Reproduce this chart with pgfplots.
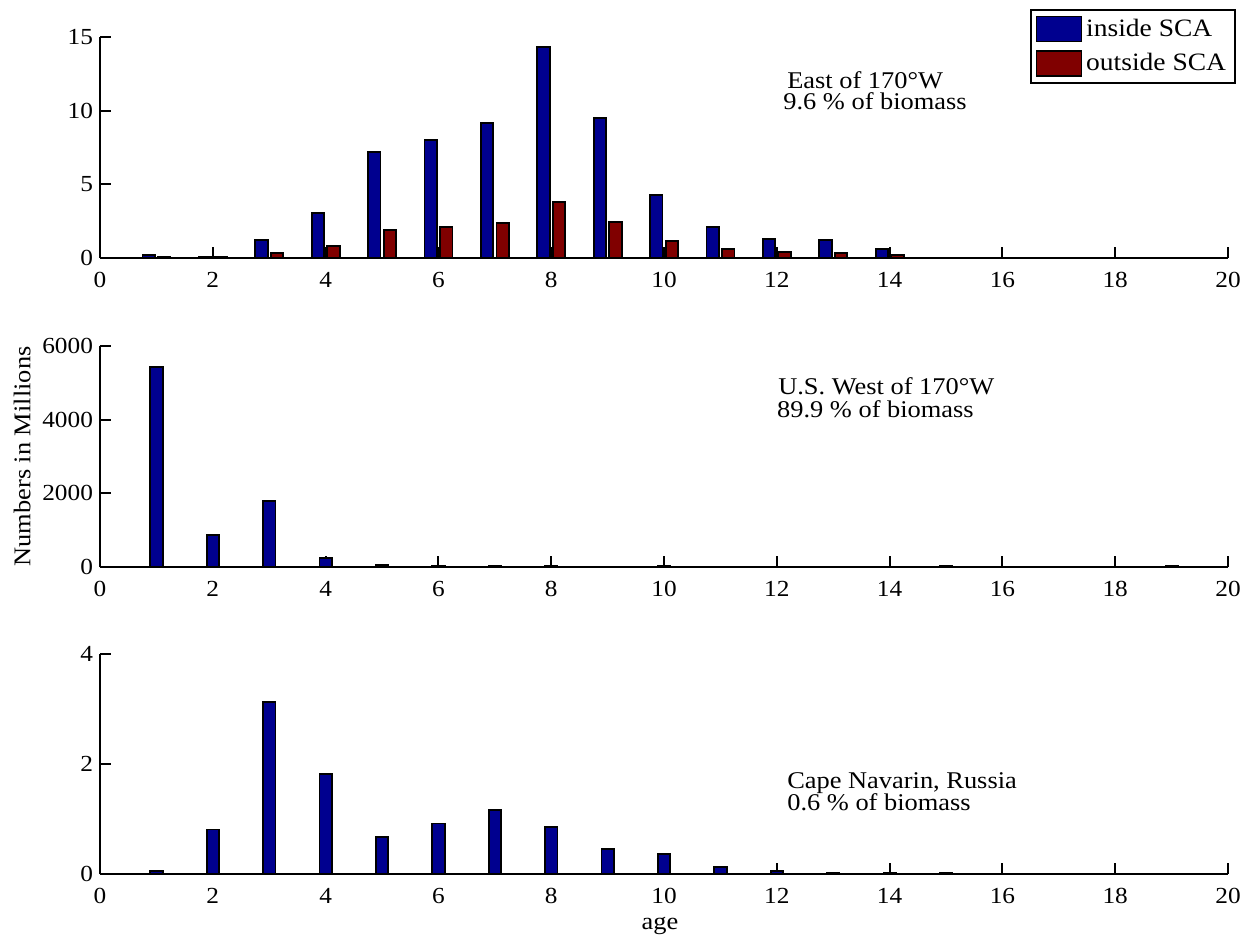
\documentclass[border=0pt]{standalone}
\usepackage{fontspec}
\setmainfont[FakeStretch=1.1]{Liberation Serif}
\usepackage{pgfplots}
\pgfplotsset{compat=1.18}

\definecolor{mblue}{RGB}{0,0,143}
\definecolor{mred}{RGB}{128,0,0}

\pgfplotsset{
  mstyle/.style={
    scale only axis, width=564pt, height=110.5pt,
    xmin=0, xmax=20, xtick={0,2,...,20},
    ymin=0,
    axis x line=bottom, axis y line=left,
    axis line style={-, line width=1pt},
    tick align=inside, major tick length=5.5pt,
    every tick/.style={black, line width=1pt},
    tick label style={font=\fontsize{11.5}{13}\selectfont},
    /pgf/number format/assume math mode=true,
    /pgf/number format/1000 sep={},
    xticklabel style={yshift=-3.5pt},
    label style={font=\fontsize{12}{14}\selectfont},
    clip=false,
  },
  mbar/.style={ybar, bar width=6.2pt, draw=black, line width=0.9pt, fill=#1,
    legend image code/.code={\draw[fill=#1, draw=black, line width=0.6pt] (0pt,-6.25pt) rectangle (22.5pt,6.25pt);}},
}
\tikzset{annot/.style={anchor=base west, inner sep=0pt, font=\fontsize{12}{14}\selectfont}}

\begin{document}
\begin{tikzpicture}
\useasboundingbox (0,0) rectangle (628.5pt,469.5pt);

% top panel
\begin{axis}[mstyle, at={(50pt,340.5pt)}, anchor=south west,
  ymax=15, ytick={0,5,10,15},
  legend style={at={(rel axis cs:1.0071,1.1267)}, anchor=north east, draw=black, line width=1pt,
    font=\fontsize{12.5}{14}\selectfont, legend cell align=left, row sep=3pt, inner sep=2.5pt}]
\addplot[mbar=mblue, bar shift=-3.9pt] coordinates {(1,0.2)(2,0.07)(3,1.22)(4,3.07)(5,7.22)(6,7.99)(7,9.14)(8,14.32)(9,9.48)(10,4.30)(11,2.13)(12,1.29)(13,1.22)(14,0.61)};
\addlegendentry{inside SCA}
\addplot[mbar=mred, bar shift=3.9pt] coordinates {(1,0.07)(2,0.05)(3,0.34)(4,0.81)(5,1.90)(6,2.13)(7,2.35)(8,3.78)(9,2.46)(10,1.15)(11,0.61)(12,0.39)(13,0.36)(14,0.2)};
\addlegendentry{outside SCA}
\node[annot] at (axis cs:12.18,11.5) {East of 170°W};
\node[annot] at (axis cs:12.11,10.05) {9.6 \% of biomass};
\end{axis}

% middle panel
\begin{axis}[mstyle, at={(50pt,186pt)}, anchor=south west,
  ymax=6000, ytick={0,2000,4000,6000},
  ylabel={Numbers in Millions},
  ylabel style={at={(axis description cs:-0.0691,0.5)}, anchor=center}]
\addplot[mbar=mblue, bar shift=0pt] coordinates {(1,5432)(2,870)(3,1797)(4,235)(5,50)(6,30)(7,40)(8,35)(9,15)(10,20)(11,15)(12,10)(13,15)(14,10)(15,20)(18,10)(19,20)};
\node[annot] at (axis cs:12.02,4670) {U.S. West of 170°W};
\node[annot] at (axis cs:12.0,4060) {89.9 \% of biomass};
\end{axis}

% bottom panel
\begin{axis}[mstyle, at={(50pt,32.5pt)}, anchor=south west, height=110pt,
  ymax=4, ytick={0,2,4},
  xlabel={age},
  xlabel style={at={(axis description cs:0.4965,-0.236)}, anchor=center}]
\addplot[mbar=mblue, bar shift=0pt] coordinates {(1,0.05)(2,0.81)(3,3.13)(4,1.82)(5,0.67)(6,0.92)(7,1.16)(8,0.85)(9,0.46)(10,0.36)(11,0.13)(12,0.06)(13,0.02)(14,0.015)(15,0.025)(18,0.01)};
\node[annot] at (axis cs:12.18,1.56) {Cape Navarin, Russia};
\node[annot] at (axis cs:12.18,1.16) {0.6 \% of biomass};
\end{axis}
\end{tikzpicture}
\end{document}
